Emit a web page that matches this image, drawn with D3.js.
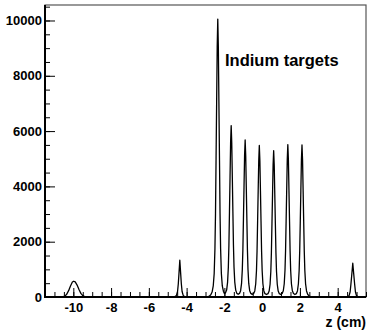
<!DOCTYPE html>
<html><head><meta charset="utf-8">
<script src="https://cdn.jsdelivr.net/npm/d3@7"></script>
<style>html,body{margin:0;padding:0;background:#fff;}svg{display:block;}</style>
</head><body>
<script>
// Histogram outline: z (cm) and counts
const zValues = [
  -11.5, -10.6, -10.45, -10.35, -10.25, -10.15, -10.05, -9.98, -9.9, -9.8, -9.7, -9.6, -9.5, -9.4, -9.3,
  -4.7, -4.6, -4.54, -4.48, -4.44, -4.40, -4.36, -4.32, -4.28, -4.24, -4.18, -4.12, -4.0,
  -2.9, -2.8, -2.72, -2.65, -2.59, -2.54, -2.50, -2.47, -2.44, -2.41, -2.38, -2.35, -2.32, -2.29, -2.26, -2.23, -2.20, -2.16, -2.11, -2.05, -2.0,
  -1.94, -1.88, -1.83, -1.79, -1.76, -1.73, -1.70, -1.67, -1.64, -1.61, -1.58, -1.55, -1.52, -1.49, -1.45, -1.40, -1.34, -1.27,
  -1.20, -1.14, -1.09, -1.05, -1.02, -0.99, -0.96, -0.93, -0.90, -0.87, -0.84, -0.81, -0.78, -0.75, -0.71, -0.66, -0.60, -0.525,
  -0.45, -0.39, -0.34, -0.30, -0.27, -0.24, -0.21, -0.18, -0.15, -0.12, -0.09, -0.06, -0.03, 0.00, 0.04, 0.09, 0.15, 0.23,
  0.31, 0.37, 0.42, 0.46, 0.49, 0.52, 0.55, 0.58, 0.61, 0.64, 0.67, 0.70, 0.73, 0.76, 0.80, 0.85, 0.91, 0.985,
  1.06, 1.12, 1.17, 1.21, 1.24, 1.27, 1.30, 1.33, 1.36, 1.39, 1.42, 1.45, 1.48, 1.51, 1.55, 1.60, 1.66, 1.735,
  1.81, 1.87, 1.92, 1.96, 1.99, 2.02, 2.05, 2.08, 2.11, 2.14, 2.17, 2.20, 2.23, 2.26, 2.30, 2.35, 2.41, 2.48, 2.6,
  4.45, 4.55, 4.61, 4.66, 4.70, 4.75, 4.80, 4.85, 4.90, 4.94, 4.99, 5.05, 5.15, 5.5
];
const counts = [
  0, 0, 30, 100, 230, 400, 540, 570, 545, 430, 270, 130, 50, 15, 0,
  0, 20, 60, 200, 480, 900, 1330, 900, 480, 200, 60, 20, 0,
  0, 30, 80, 180, 400, 850, 1750, 3015, 5025, 7035, 9045, 10050, 9045, 7035, 5025, 3015, 1750, 850, 400, 200, 130,
  150, 250, 540, 1080, 1880, 3100, 4340, 5580, 6200, 5580, 4340, 3100, 1880, 1080, 540, 250, 130, 100,
  130, 230, 490, 1000, 1720, 2840, 3980, 5110, 5680, 5110, 3980, 2840, 1720, 1000, 490, 230, 130, 95,
  125, 220, 480, 960, 1660, 2740, 3840, 4930, 5480, 4930, 3840, 2740, 1660, 960, 480, 220, 120, 90,
  120, 215, 460, 930, 1610, 2650, 3700, 4760, 5290, 4760, 3700, 2650, 1610, 930, 460, 215, 120, 90,
  125, 225, 480, 970, 1670, 2760, 3860, 4960, 5510, 4960, 3860, 2760, 1670, 970, 480, 225, 125, 90,
  120, 220, 480, 965, 1670, 2750, 3850, 4950, 5500, 4950, 3850, 2750, 1670, 965, 480, 220, 100, 40, 0,
  0, 20, 60, 190, 450, 830, 1220, 830, 450, 190, 60, 20, 0, 0
];
const xDomain = [-11.5, 5.5];
const yDomain = [0, 10560];
const xTickLabels = [-10, -8, -6, -4, -2, 0, 2, 4];
const yTickLabels = [0, 2000, 4000, 6000, 8000, 10000];
const xTitle = "z (cm)";
const annotation = "Indium targets";

const W = 367, H = 333;
const m = {left: 45, right: 1, top: 5, bottom: 36};
const svg = d3.select("body").append("svg").attr("width", W).attr("height", H);
const x = d3.scaleLinear().domain(xDomain).range([m.left, W - m.right]);
const y = d3.scaleLinear().domain(yDomain).range([H - m.bottom, m.top]);
const font = "'Liberation Sans', Arial, Helvetica, sans-serif";
const fmt = d => String(d);

// frame (top / right)
svg.append("rect").attr("x", x(xDomain[0])).attr("y", y(yDomain[1]))
  .attr("width", x(xDomain[1]) - x(xDomain[0])).attr("height", y(0) - y(yDomain[1]))
  .attr("fill", "none").attr("stroke", "#555").attr("stroke-width", 1.2);

// histogram line
const data = zValues.map((z, i) => [z, counts[i]]);
svg.append("path").datum(data)
  .attr("d", d3.line().x(d => x(d[0])).y(d => y(d[1])))
  .attr("fill", "none").attr("stroke", "#000").attr("stroke-width", 1.3)
  .attr("stroke-linejoin", "round");

// x axis
const xMinor = d3.range(-11.5, 5.5001, 0.5);
const gx = svg.append("g").attr("transform", `translate(0,${y(0)})`);
gx.call(d3.axisTop(x).tickValues(xMinor).tickSize(5).tickFormat(""));
gx.call(g => g.select(".domain").remove());
const gx2 = svg.append("g").attr("transform", `translate(0,${y(0)})`);
gx2.call(d3.axisTop(x).tickValues(xTickLabels).tickSize(9).tickFormat(""));
gx2.select(".domain").remove();
svg.selectAll(".tick line").attr("stroke", "#000").attr("stroke-width", 1);
svg.append("g").attr("transform", `translate(0,${y(0)})`)
  .call(d3.axisBottom(x).tickValues(xTickLabels).tickSize(0).tickPadding(6).tickFormat(fmt))
  .call(g => g.select(".domain").remove())
  .call(g => g.selectAll("text").attr("font-family", font).attr("font-weight", "bold")
        .attr("font-size", 13).attr("fill", "#000"));

// y axis
const yMinor = d3.range(0, 10501, 500);
const gy = svg.append("g").attr("transform", `translate(${x(xDomain[0])},0)`);
gy.call(d3.axisRight(y).tickValues(yMinor).tickSize(5).tickFormat(""));
gy.select(".domain").remove();
const gy2 = svg.append("g").attr("transform", `translate(${x(xDomain[0])},0)`);
gy2.call(d3.axisRight(y).tickValues(yTickLabels).tickSize(10).tickFormat(""));
gy2.select(".domain").remove();
svg.selectAll(".tick line").attr("stroke", "#000").attr("stroke-width", 1);
svg.append("g").attr("transform", `translate(${x(xDomain[0])},0)`)
  .call(d3.axisLeft(y).tickValues(yTickLabels).tickSize(0).tickPadding(3).tickFormat(fmt))
  .call(g => g.select(".domain").remove())
  .call(g => g.selectAll("text").attr("font-family", font).attr("font-weight", "bold")
        .attr("font-size", 13).attr("fill", "#000"));

// axis lines
svg.append("line").attr("x1", x(xDomain[0])).attr("x2", x(xDomain[1]))
  .attr("y1", y(0)).attr("y2", y(0)).attr("stroke", "#000").attr("stroke-width", 2);
svg.append("line").attr("x1", x(xDomain[0])).attr("x2", x(xDomain[0]))
  .attr("y1", y(0) + 1).attr("y2", y(yDomain[1])).attr("stroke", "#000").attr("stroke-width", 2);

// titles
svg.append("text").attr("x", 366).attr("y", 327).attr("text-anchor", "end")
  .attr("font-family", font).attr("font-weight", "bold").attr("font-size", 14).text(xTitle);
svg.append("text").attr("x", 225).attr("y", 66)
  .attr("font-family", font).attr("font-weight", "bold").attr("font-size", 16.5).text(annotation);
</script>
</body></html>
